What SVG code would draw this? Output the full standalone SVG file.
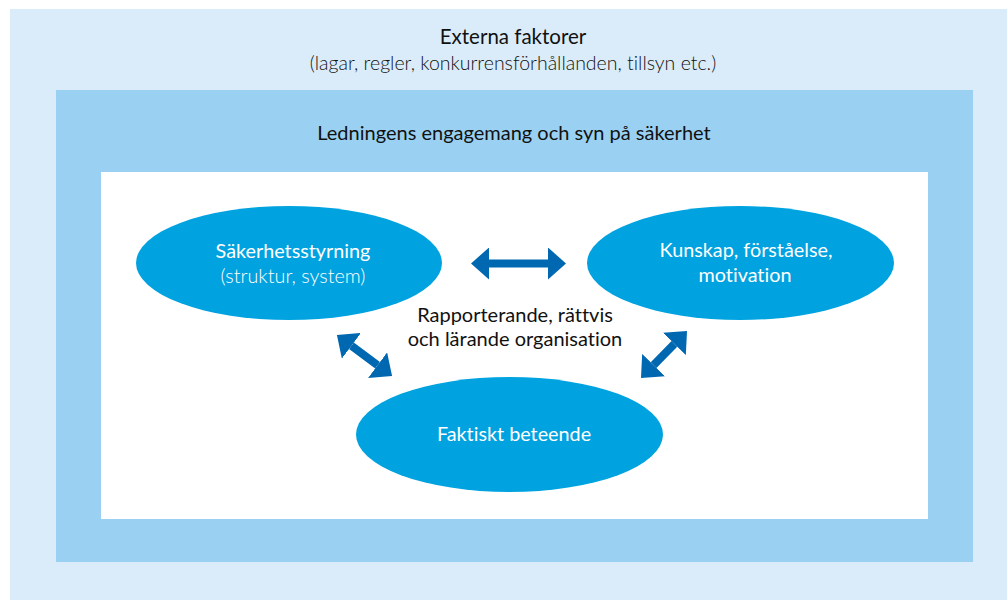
<svg xmlns="http://www.w3.org/2000/svg" width="1007" height="600" viewBox="0 0 1007 600">
  <style>
    .t { font-family: Lato, "Open Sans", "Liberation Sans", sans-serif; text-anchor: middle; font-variant-ligatures: none; }
    .dark { fill: #111111; }
    .light { font-weight: 300; }
    .w { fill: #ffffff; }
    .node { fill: #00A3E0; }
    .arrow { stroke: #0067B1; stroke-width: 8; fill: none; marker-start: url(#head); marker-end: url(#head); }
  </style>
  <defs>
    <marker id="head" viewBox="0 0 18 32" refX="0" refY="16" markerWidth="18" markerHeight="32" markerUnits="userSpaceOnUse" orient="auto-start-reverse">
      <path d="M0,0 L18,16 L0,32 Z" fill="#0067B1"/>
    </marker>
  </defs>

  <g id="externa">
    <rect x="10" y="9" width="997" height="591" fill="#DAECFA"/>
    <text class="t dark" x="513" y="44" font-size="20.5">Externa faktorer</text>
    <text class="t dark light" x="513" y="70" font-size="19.5">(lagar, regler, konkurrensförhållanden, tillsyn etc.)</text>
  </g>

  <g id="ledning">
    <rect x="56" y="90" width="917" height="472" fill="#9AD1F3"/>
    <text class="t dark" x="514" y="140" font-size="20">Ledningens engagemang och syn på säkerhet</text>
  </g>

  <g id="organisation">
    <rect x="101" y="172" width="827" height="347" fill="#ffffff"/>
    <text class="t dark" x="515" y="322" font-size="20">Rapporterande, rättvis</text>
    <text class="t dark" x="515" y="346" font-size="20">och lärande organisation</text>
  </g>

  <g id="sakerhetsstyrning">
    <ellipse class="node" cx="289" cy="263" rx="153" ry="57"/>
    <text class="t w" x="293" y="258" font-size="19.8">Säkerhetsstyrning</text>
    <text class="t w light" x="293" y="283" font-size="19.8">(struktur, system)</text>
  </g>

  <g id="kunskap">
    <ellipse class="node" cx="740.5" cy="263" rx="153.5" ry="57"/>
    <text class="t w" x="746" y="257" font-size="19.8">Kunskap, förståelse,</text>
    <text class="t w" x="745" y="282" font-size="19.8">motivation</text>
  </g>

  <g id="faktiskt">
    <ellipse class="node" cx="509.5" cy="434.5" rx="153.5" ry="57.5"/>
    <text class="t w" x="514" y="441" font-size="19.8">Faktiskt beteende</text>
  </g>

  <g id="connectors">
    <line class="arrow" x1="489" y1="263.5" x2="548" y2="263.5"/>
    <line class="arrow" x1="351.4" y1="345.8" x2="377.6" y2="365.2"/>
    <line class="arrow" x1="674.4" y1="343.9" x2="653.6" y2="365.1"/>
  </g>
</svg>
